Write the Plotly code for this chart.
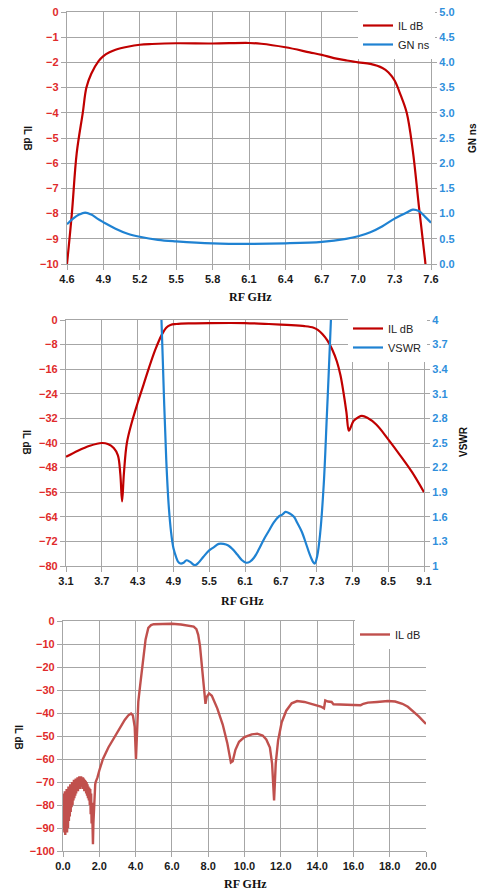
import plotly.graph_objects as go

# ---- top chart: passband IL and group delay ----
top_freq = [4.60, 4.64, 4.68, 4.73, 4.76, 4.80, 4.86, 4.90, 4.95, 5.00, 5.10, 5.20, 5.30, 5.50,
            5.80, 6.10, 6.20, 6.40, 6.60, 6.70, 6.80, 6.90, 7.00, 7.10, 7.20, 7.25, 7.30,
            7.35, 7.40, 7.45, 7.50, 7.55, 7.57]
top_il = [-10.0, -8.0, -5.6, -4.0, -3.0, -2.45, -1.95, -1.75, -1.6, -1.5, -1.38, -1.3, -1.27, -1.24,
          -1.25, -1.23, -1.26, -1.4, -1.6, -1.7, -1.83, -1.92, -2.0, -2.06, -2.22, -2.4, -2.72,
          -3.3, -4.0, -5.5, -7.7, -9.8, -10.8]

gd_freq = [4.60, 4.65, 4.70, 4.75, 4.80, 4.85, 4.90, 5.00, 5.10, 5.20, 5.35, 5.50, 5.80, 6.10,
           6.40, 6.70, 6.90, 7.00, 7.10, 7.20, 7.30, 7.40, 7.45, 7.50, 7.55, 7.60]
gd_ns = [0.79, 0.9, 0.98, 1.02, 0.98, 0.9, 0.83, 0.7, 0.6, 0.54, 0.48, 0.45, 0.41, 0.4,
         0.41, 0.44, 0.5, 0.55, 0.63, 0.75, 0.9, 1.02, 1.08, 1.05, 0.94, 0.82]

# ---- middle chart: IL and VSWR 3.1-9.1 GHz ----
mid_freq = [3.10, 3.30, 3.50, 3.70, 3.80, 3.90, 3.97, 4.01, 4.04, 4.07, 4.12, 4.20, 4.30, 4.40,
            4.50, 4.60, 4.70, 4.78, 4.85, 4.95, 5.20, 5.50, 6.10, 6.50, 6.80, 7.10, 7.25,
            7.32, 7.40, 7.48, 7.56, 7.64, 7.70, 7.75, 7.80, 7.84, 7.87, 7.92, 8.00, 8.06,
            8.15, 8.30, 8.50, 8.70, 8.90, 9.10]
mid_il = [-44.5, -42.5, -40.9, -40.0, -40.3, -41.6, -44.0, -50.0, -59.0, -50.0, -40.0, -33.5, -27.0, -21.0,
          -15.0, -9.5, -5.0, -2.5, -1.6, -1.3, -1.1, -1.0, -1.0, -1.3, -1.6, -2.0, -2.5,
          -3.2, -4.6, -6.6, -9.5, -13.5, -18.0, -23.5, -30.0, -36.0, -35.0, -32.8, -31.6, -31.2,
          -31.8, -34.0, -38.8, -44.0, -49.5, -56.0]

vswr_freq = [4.66, 4.70, 4.74, 4.78, 4.82, 4.86, 4.90, 4.95, 4.98, 5.02, 5.07, 5.12, 5.18, 5.26,
             5.32, 5.40, 5.50, 5.58, 5.66, 5.74, 5.82, 5.90, 5.97, 6.05, 6.12, 6.18, 6.25,
             6.33, 6.42, 6.50, 6.58, 6.66, 6.73, 6.78, 6.85, 6.92, 6.98, 7.05, 7.12, 7.18,
             7.24, 7.27, 7.31, 7.36, 7.42, 7.47, 7.50, 7.54, 7.58]
vswr = [4.6, 4.0, 3.1, 2.3, 1.75, 1.42, 1.22, 1.1, 1.05, 1.03, 1.04, 1.07, 1.05, 1.01,
        1.04, 1.11, 1.19, 1.23, 1.27, 1.27, 1.25, 1.2, 1.14, 1.07, 1.04, 1.05, 1.1,
        1.2, 1.33, 1.43, 1.53, 1.6, 1.63, 1.66, 1.64, 1.6, 1.52, 1.42, 1.28, 1.15,
        1.05, 1.03, 1.12, 1.4, 2.0, 2.8, 3.3, 4.0, 4.7]

# ---- bottom chart: wideband IL 0-20 GHz (noisy below 1.8 GHz) ----
wide_freq = [0.000, 0.025, 0.050, 0.075, 0.100, 0.125, 0.150, 0.175, 0.200, 0.225, 0.250, 0.275,
             0.300, 0.325, 0.350, 0.375, 0.400, 0.425, 0.450, 0.475, 0.500, 0.525, 0.550, 0.575,
             0.600, 0.625, 0.650, 0.675, 0.700, 0.725, 0.750, 0.775, 0.800, 0.825, 0.850, 0.875,
             0.900, 0.925, 0.950, 0.975, 1.000, 1.025, 1.050, 1.075, 1.100, 1.125, 1.150, 1.175,
             1.200, 1.225, 1.250, 1.275, 1.300, 1.325, 1.350, 1.375, 1.400, 1.425, 1.450, 1.475,
             1.500, 1.525, 1.550, 1.575, 1.600, 1.625, 1.650, 1.675, 1.700, 1.725, 1.750, 1.775,
             1.800, 1.90, 2.00, 2.20,
             2.50, 2.80, 3.10, 3.40, 3.60, 3.75, 3.85, 3.95, 4.02, 4.08, 4.15, 4.25, 4.40,
             4.55, 4.70, 4.85, 5.00, 5.50, 6.00, 6.50, 7.00, 7.20, 7.35, 7.45, 7.55, 7.65,
             7.75, 7.85, 7.92, 8.05, 8.20, 8.50, 8.80, 9.05, 9.25, 9.35, 9.50, 9.70, 10.00,
             10.40, 10.70, 11.00, 11.20, 11.40, 11.52, 11.63, 11.72, 11.85, 12.05, 12.30, 12.60,
             12.90, 13.30, 13.80, 14.20, 14.38, 14.45, 14.60, 14.80, 14.90, 15.50, 16.00, 16.40,
             16.55, 16.80, 17.30, 17.90, 18.30, 18.70, 19.00, 19.30, 19.60, 20.00]
wide_il = [-80, -91, -75, -92, -74, -93, -74, -92, -73, -92, -73, -90,
           -72, -87, -72, -85, -71, -83, -71, -81, -70, -80, -70, -78,
           -69, -77, -69, -76, -68.5, -75, -68.5, -74, -68, -74, -68, -73,
           -67.5, -73, -67.5, -72, -67.5, -72, -68, -73, -68, -73, -68.5, -74,
           -69, -74, -69.5, -75, -70, -76, -71, -77, -72, -78, -72.5, -80,
           -73, -84, -75, -88, -79, -92, -97, -88, -82, -76, -73, -71,
           -70, -68, -65, -60,
           -55, -51, -46.5, -43, -41, -40.2, -41, -46, -60, -45, -35, -28, -19,
           -8, -3, -1.8, -1.4, -1.3, -1.2, -1.5, -2.0, -2.4, -3.5, -6, -11, -19,
           -28, -36, -33, -31.5, -32.5, -38, -45, -53, -61.5, -61, -56, -52.5, -50.5,
           -49.3, -49, -49.8, -51.5, -55, -62, -78, -62, -52, -44, -39, -35.8,
           -34.8, -35.2, -36.2, -37.2, -38, -34.5, -35, -35.2, -36.2, -36.3, -36.4, -36.6,
           -36, -35.5, -35.2, -34.8, -35, -36, -37.3, -39.4, -41.5, -44.8]

RED = "#c00000"
BLUE = "#1f82d2"
WIDE_RED = "#c0504d"
GRID = "#a6a6a6"
RED_TXT = "#e02b2b"
BLUE_TXT = "#2f8fdc"

fig = go.Figure()

fig.add_trace(go.Scatter(x=top_freq, y=top_il, name="IL dB", line=dict(color=RED, width=2.2, shape="spline"),
                         xaxis="x", yaxis="y", legend="legend"))
fig.add_trace(go.Scatter(x=gd_freq, y=gd_ns, name="GN ns", line=dict(color=BLUE, width=2.2, shape="spline"),
                         xaxis="x", yaxis="y2", legend="legend"))
fig.add_trace(go.Scatter(x=mid_freq, y=mid_il, name="IL dB", line=dict(color=RED, width=2.2, shape="spline"),
                         xaxis="x2", yaxis="y3", legend="legend2"))
fig.add_trace(go.Scatter(x=vswr_freq, y=vswr, name="VSWR", line=dict(color=BLUE, width=2.2, shape="spline"),
                         xaxis="x2", yaxis="y4", legend="legend2"))
fig.add_trace(go.Scatter(x=wide_freq, y=wide_il, name="IL dB", line=dict(color=WIDE_RED, width=2.4),
                         xaxis="x3", yaxis="y5", legend="legend3"))

tick_font = dict(family="Liberation Sans", size=11, color="#1a1a1a", weight="bold")


def xax(domain, rng, dtick, anchor):
    return dict(domain=domain, range=rng, dtick=dtick, tick0=rng[0], tickformat=".1f", anchor=anchor,
                automargin=False,
                showgrid=True, gridcolor=GRID, gridwidth=1.3, zeroline=False,
                showline=True, linecolor=GRID, linewidth=1.3, mirror=True,
                ticks="outside", ticklen=5, tickcolor=GRID, tickfont=tick_font)


def yax(domain, rng, dtick, anchor, color, side="left", fmt=None, overlay=None):
    d = dict(domain=domain, range=rng, dtick=dtick, tick0=rng[0], anchor=anchor, side=side,
             automargin=False,
             showgrid=(side == "left"), gridcolor=GRID, gridwidth=1.3, zeroline=False,
             showline=True, linecolor=GRID, linewidth=1.3,
             ticks="outside", ticklen=5, tickcolor=GRID,
             tickfont=dict(family="Liberation Sans", size=11, color=color, weight="bold"))
    if fmt:
        d["tickformat"] = fmt
    if overlay:
        d["overlaying"] = overlay
    return d


top_x = [67 / 483, 431 / 483]
mid_x = [66 / 483, 424 / 483]
bot_x = [63 / 483, 426 / 483]
top_y = [1 - 264 / 896, 1 - 12 / 896]
mid_y = [1 - 566 / 896, 1 - 320 / 896]
bot_y = [1 - 851 / 896, 1 - 621 / 896]

legend_font = dict(family="Liberation Sans", size=11, color="#222222")

fig.update_layout(
    width=483, height=896,
    margin=dict(l=0, r=0, t=0, b=0, autoexpand=False),
    paper_bgcolor="white", plot_bgcolor="white",
    hovermode=False,
    xaxis=xax(top_x, [4.6, 7.6], 0.3, "y"),
    yaxis=yax(top_y, [-10, 0], 1, "x", RED_TXT),
    yaxis2=yax(top_y, [0, 5], 0.5, "x", BLUE_TXT, side="right", fmt=".1f", overlay="y"),
    xaxis2=xax(mid_x, [3.1, 9.1], 0.6, "y3"),
    yaxis3=yax(mid_y, [-80, 0], 8, "x2", RED_TXT),
    yaxis4=yax(mid_y, [1, 4], 0.3, "x2", BLUE_TXT, side="right", overlay="y3"),
    xaxis3=xax(bot_x, [0, 20], 2, "y5"),
    yaxis5=yax(bot_y, [-100, 0], 10, "x3", RED_TXT),
    legend=dict(x=358 / 483, y=1 - 11 / 896, xanchor="left", yanchor="top", bgcolor="white",
                font=legend_font, tracegroupgap=0),
    legend2=dict(x=348 / 483, y=1 - 314 / 896, xanchor="left", yanchor="top", bgcolor="white",
                 font=legend_font, tracegroupgap=0),
    legend3=dict(x=355 / 483, y=1 - 620 / 896, xanchor="left", yanchor="top", bgcolor="white",
                 font=legend_font),
    showlegend=True,
)

title_font = dict(family="Liberation Sans", size=10, color="#111111", weight="bold")
x_title_font = dict(family="Liberation Serif", size=12, color="#111111", weight="bold")

titles = [
    ("IL dB", 28, 138, 90, title_font),
    ("GN ns", 472, 138, -90, title_font),
    ("RF GHz", 250, 297, 0, x_title_font),
    ("IL dB", 27, 442, 90, title_font),
    ("VSWR", 463, 442, -90, title_font),
    ("RF GHz", 243, 601, 0, x_title_font),
    ("IL dB", 19, 737, 90, title_font),
    ("RF GHz", 245, 884, 0, x_title_font),
]
for text, px, py, angle, font in titles:
    fig.add_annotation(text=text, x=px / 483, y=1 - py / 896, xref="paper", yref="paper",
                       showarrow=False, textangle=angle, font=font, xanchor="center", yanchor="middle")

# the page body has a default 8px margin; drop it so the figure sits at the window corner
fig.write_html("out.html", config={"displayModeBar": False},
               post_script="document.body.style.margin='0px';")
